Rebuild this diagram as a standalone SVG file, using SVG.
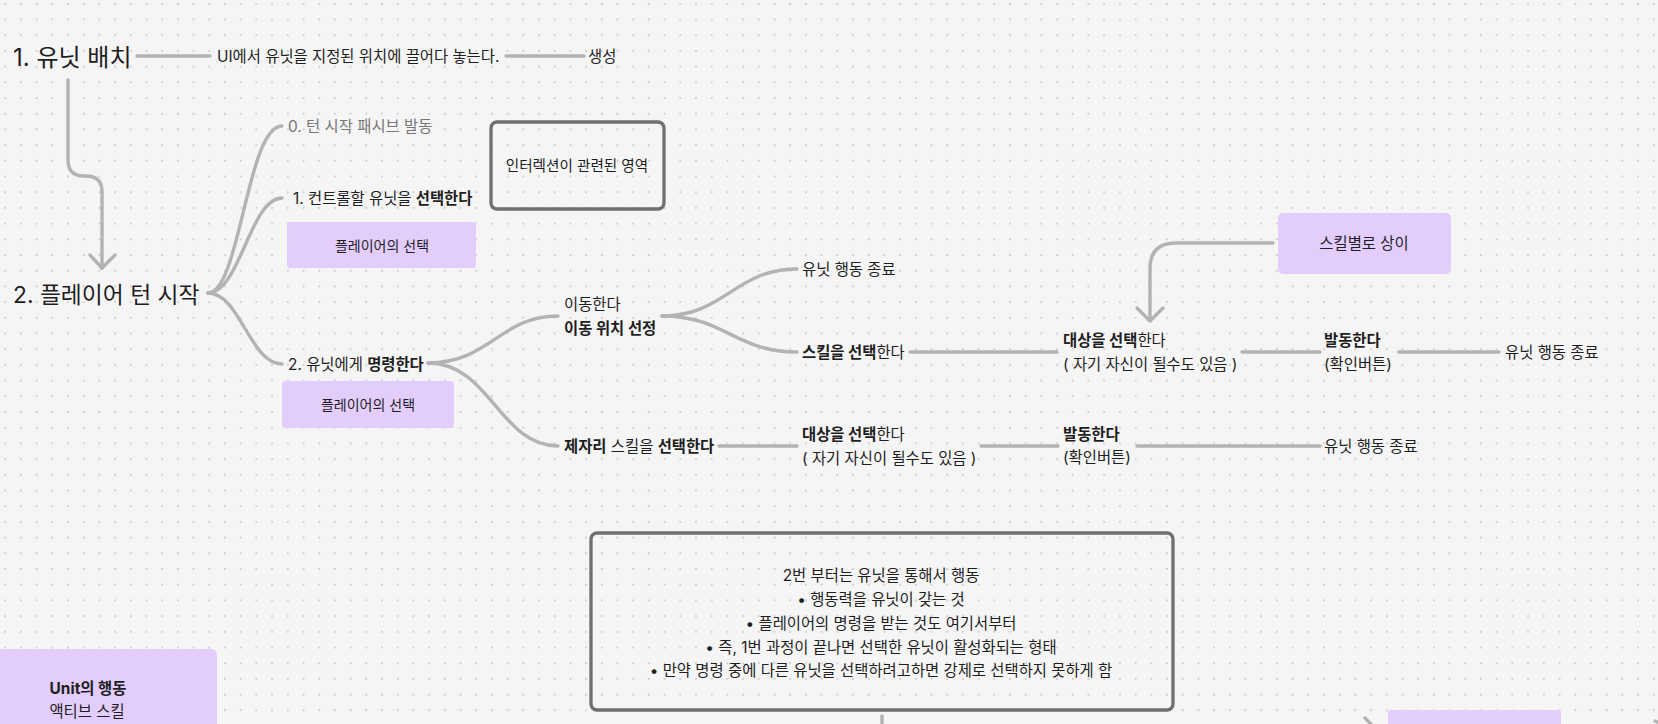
<svg xmlns="http://www.w3.org/2000/svg" width="1658" height="724" viewBox="0 0 1658 724">
<defs>
<pattern id="dots" patternUnits="userSpaceOnUse" x="-2.65" y="-4.05" width="15.7" height="15.7">
<circle cx="7.85" cy="7.85" r="0.95" fill="#c4c4c4"/>
</pattern>
<style>
text{font-family:"Inter","Noto Sans CJK KR",sans-serif;fill:#1e1e1e;dominant-baseline:central}
.s{font-size:15.4px}
.p{font-size:14px}
.l{font-size:22.8px}
.b{font-weight:700}
.g{fill:#777777}
.m{text-anchor:middle}
.con{fill:none;stroke:#b3b3b3;stroke-width:3.4;stroke-linecap:round;stroke-linejoin:round}
.pur{fill:#e3cdfd}
.frame{fill:none;stroke:#6f6f6f;stroke-width:3.3}
</style>
</defs>
<rect width="1658" height="724" fill="#f5f5f5"/>
<rect width="1658" height="724" fill="url(#dots)"/>

<g id="connectors">
<path class="con" d="M137,56 H210"/>
<path class="con" d="M506,56 H584"/>
<path class="con" d="M68,80 V160 Q68,176 84,176 H86 Q102,176 102,192 V268"/>
<path class="con" d="M90,255 L102,268 L115,255"/>
<path class="con" d="M208,293 C240,293 247,126 282,126"/>
<path class="con" d="M208,293 C240,293 250,198 282,198"/>
<path class="con" d="M208,293 C240,293 250,364 282,364"/>
<path class="con" d="M428,363 C490,363 500,316 558,316"/>
<path class="con" d="M428,363 C490,363 500,446 558,446"/>
<path class="con" d="M662,316 C725,316 735,269 797,269"/>
<path class="con" d="M662,316 C725,316 735,352 797,352"/>
<path class="con" d="M910,352 H1057"/>
<path class="con" d="M1242,352 H1320"/>
<path class="con" d="M1399,352 H1499"/>
<path class="con" d="M719,446 H797"/>
<path class="con" d="M981,446 H1058"/>
<path class="con" d="M1137,446 H1320"/>
<path class="con" d="M1273,243 H1176 Q1150,243 1150,269 V320"/>
<path class="con" d="M1137,308 L1150,321 L1163,308"/>
<path class="con" d="M882,716 V728"/>
<path class="con" d="M1365,718 L1375,728"/>
<path class="con" d="M1655,721 L1662,724"/>
</g>

<g id="n-place"><text class="l" x="13" y="57" style="font-size:24px">1. 유닛 배치</text></g>
<g id="n-drag"><text class="s" x="217" y="56">UI에서 유닛을 지정된 위치에 끌어다 놓는다.</text></g>
<g id="n-create"><text class="s" x="588" y="56">생성</text></g>
<g id="n-turn"><text class="l" x="13" y="294">2. 플레이어 턴 시작</text></g>
<g id="n-passive"><text class="s g" x="288" y="126">0. 턴 시작 패시브 발동</text></g>
<g id="n-select"><text class="s" x="293" y="198">1. 컨트롤할 유닛을 <tspan class="b">선택한다</tspan></text></g>
<g id="n-choice1"><rect class="pur" x="287" y="222" width="189" height="46" rx="3"/><text class="p m" x="382" y="245">플레이어의 선택</text></g>
<g id="n-interaction"><rect class="frame" x="491" y="122" width="173" height="87" rx="6"/><text class="m" style="font-size:14.6px" x="577" y="166">인터렉션이 관련된 영역</text></g>
<g id="n-command"><text class="s" x="288" y="364">2. 유닛에게 <tspan class="b">명령한다</tspan></text></g>
<g id="n-choice2"><rect class="pur" x="282" y="381" width="172" height="47" rx="3"/><text class="p m" x="368" y="404">플레이어의 선택</text></g>
<g id="n-move"><text class="s" x="564" y="304">이동한다</text><text class="s b" x="564" y="328">이동 위치 선정</text></g>
<g id="n-end1"><text class="s" x="802" y="269">유닛 행동 종료</text></g>
<g id="n-skill"><text class="s" x="802" y="352"><tspan class="b">스킬을 선택</tspan>한다</text></g>
<g id="n-target1"><text class="s" x="1063" y="340"><tspan class="b">대상을 선택</tspan>한다</text><text class="s" x="1063" y="364">( 자기 자신이 될수도 있음 )</text></g>
<g id="n-fire1"><text class="s b" x="1324" y="340">발동한다</text><text class="s" x="1324" y="364">(확인버튼)</text></g>
<g id="n-end2"><text class="s" x="1505" y="352">유닛 행동 종료</text></g>
<g id="n-vary"><rect class="pur" x="1278" y="213" width="173" height="61" rx="5"/><text class="s m" x="1364" y="243">스킬별로 상이</text></g>
<g id="n-inplace"><text class="s" x="564" y="446"><tspan class="b">제자리</tspan> 스킬을 <tspan class="b">선택한다</tspan></text></g>
<g id="n-target2"><text class="s" x="802" y="434"><tspan class="b">대상을 선택</tspan>한다</text><text class="s" x="802" y="458">( 자기 자신이 될수도 있음 )</text></g>
<g id="n-fire2"><text class="s b" x="1063" y="434">발동한다</text><text class="s" x="1063" y="457">(확인버튼)</text></g>
<g id="n-end3"><text class="s" x="1324" y="446">유닛 행동 종료</text></g>
<g id="n-note"><rect class="frame" x="591" y="533" width="582" height="177" rx="6"/>
<text class="s m" x="881" y="575">2번 부터는 유닛을 통해서 행동</text>
<text class="s m" x="881" y="599">•  행동력을 유닛이 갖는 것</text>
<text class="s m" x="881" y="623">•  플레이어의 명령을 받는 것도 여기서부터</text>
<text class="s m" x="881" y="647">•  즉, 1번 과정이 끝나면 선택한 유닛이 활성화되는 형태</text>
<text class="s m" x="881" y="670">•  만약 명령 중에 다른 유닛을 선택하려고하면 강제로 선택하지 못하게 함</text>
</g>
<g id="n-unit"><rect class="pur" x="-10" y="649" width="227" height="90" rx="6"/><text class="s b m" x="88" y="688">Unit의 행동</text><text class="s m" x="87" y="711">액티브 스킬</text></g>
<g id="n-bottomright"><rect class="pur" x="1388" y="710" width="173" height="30" rx="3"/></g>
</svg>
